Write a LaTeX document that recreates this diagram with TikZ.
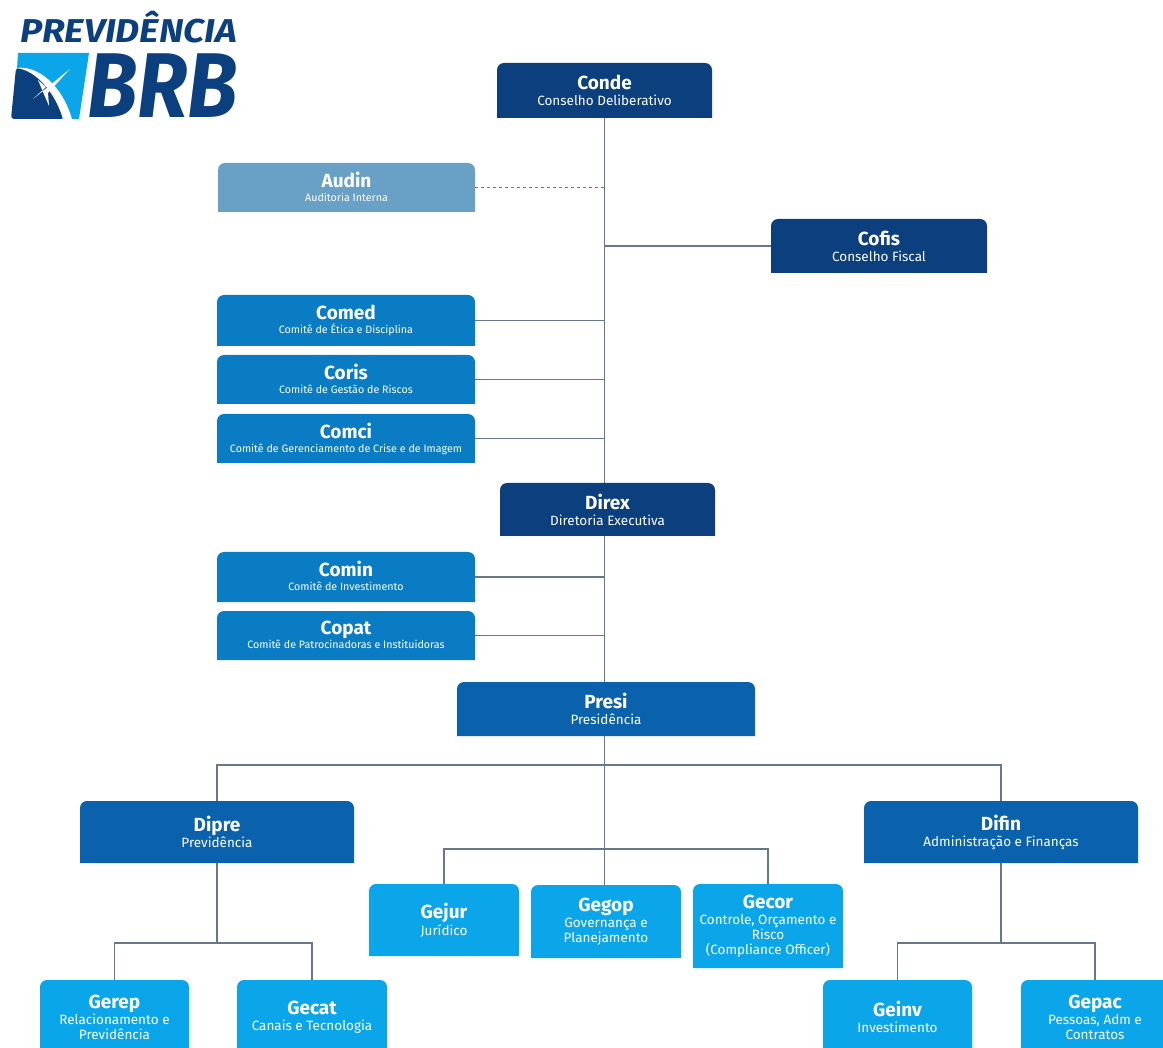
\documentclass[tikz,border=0pt]{standalone}
\usepackage{fontspec}
\setmainfont{Fira Sans}
\usepackage{xcolor}
\usetikzlibrary{arrows.meta,positioning}
\definecolor{navybox}{HTML}{0B3F7E}
\definecolor{presibox}{HTML}{0B62AC}
\definecolor{comitebox}{HTML}{0A7CC4}
\definecolor{audinbox}{HTML}{69A0C6}
\definecolor{gerenbox}{HTML}{0BA6E9}
\definecolor{linegray}{HTML}{66788A}
\newcommand{\smallsub}[1]{\raisebox{2pt}[0pt][0pt]{\fontsize{10.7}{11}\selectfont #1}}
% name, left, top, right, bottom, colour, title, subtitle
\newcommand{\orgbox}[8]{
    \fill[#6] (#2,#5) {[rounded corners=7pt] -- (#2,#3) -- (#4,#3)} -- (#4,#5) -- cycle;
    \node[orgtext, minimum width=#4pt-#2pt, minimum height=#5pt-#3pt] (#1) at ({(#2+#4)/2},{(#3+#5)/2})
        {{\fontsize{19}{22}\selectfont\bfseries #7}\\[1pt] #8};
}
\tikzset{
    orgtext/.style={inner sep=0pt, align=center, text=white, font=\fontsize{13.5}{15}\selectfont},
    orgline/.style={linegray, line width=1.2pt},
    logotext/.style={text=navybox, anchor=base west, inner sep=0pt}
}

\begin{document}
\begin{tikzpicture}[x=1pt,y=-1pt]
    \useasboundingbox (0,0) rectangle (1163,1048);

    % Logo
    \node[logotext, font=\fontsize{33}{33}\selectfont\bfseries\itshape] (logotop) at (20,43) {\scalebox{1.13}[1]{PREVIDÊNCIA}};
    \node[logotext, font=\fontsize{92}{92}\selectfont\bfseries\itshape] (logobrb) at (87,118) {\scalebox{0.9}[1]{BRB}};
    \fill[gerenbox] (18,53) -- (89,53) -- (79,119) -- (14,119) -- cycle;
    \fill[navybox, rounded corners=3pt] (16,68) .. controls (36,70) and (55,92) .. (63,119) -- (11,119) -- cycle;
    \fill[white] (16,68) .. controls (38,65) and (62,85) .. (72,119) -- (63,119) .. controls (55,92) and (36,70) .. (16,68) -- cycle;
    \fill[white] (33,99) -- (70,69) -- (48,93) -- (49,106) -- (43,92) -- (38,80) -- (46,87) -- cycle;

    % Boards
    \orgbox{conde}{497}{63}{712}{118}{navybox}{Conde}{Conselho Deliberativo}
    \orgbox{audin}{218}{163}{475}{212}{audinbox}{Audin}{\smallsub{Auditoria Interna}}
    \orgbox{cofis}{771}{219}{987}{273}{navybox}{Cofis}{Conselho Fiscal}

    % Committees
    \orgbox{comed}{217}{295}{475}{346}{comitebox}{Comed}{\smallsub{Comitê de Ética e Disciplina}}
    \orgbox{coris}{217}{355}{475}{404}{comitebox}{Coris}{\smallsub{Comitê de Gestão de Riscos}}
    \orgbox{comci}{217}{414}{475}{463}{comitebox}{Comci}{\smallsub{Comitê de Gerenciamento de Crise e de Imagem}}
    \orgbox{direx}{500}{483}{715}{536}{navybox}{Direx}{Diretoria Executiva}
    \orgbox{comin}{217}{552}{475}{602}{comitebox}{Comin}{\smallsub{Comitê de Investimento}}
    \orgbox{copat}{217}{611}{475}{660}{comitebox}{Copat}{\smallsub{Comitê de Patrocinadoras e Instituidoras}}

    % Presidency and directors
    \orgbox{presi}{457}{682}{755}{736}{presibox}{Presi}{Presidência}
    \orgbox{dipre}{80}{801}{354}{863}{presibox}{Dipre}{Previdência}
    \orgbox{difin}{864}{801}{1138}{863}{presibox}{Difin}{Administração e Finanças}

    % Managers
    \orgbox{gejur}{369}{884}{519}{956}{gerenbox}{Gejur}{Jurídico}
    \orgbox{gegop}{531}{885}{681}{958}{gerenbox}{Gegop}{Governança e\\Planejamento}
    \orgbox{gecor}{693}{884}{843}{968}{gerenbox}{Gecor}{Controle, Orçamento e\\Risco\\(Compliance Officer)}
    \orgbox{gerep}{40}{980}{189}{1054}{gerenbox}{Gerep}{Relacionamento e\\Previdência}
    \orgbox{gecat}{237}{980}{387}{1054}{gerenbox}{Gecat}{Canais e Tecnologia}
    \orgbox{geinv}{823}{980}{972}{1054}{gerenbox}{Geinv}{Investimento}
    \orgbox{gepac}{1021}{980}{1169}{1054}{gerenbox}{Gepac}{Pessoas, Adm e\\Contratos}

    % Bars
    \coordinate (barpresi) at (605,765);
    \coordinate (barstaff) at (605,849);
    \coordinate (bardipre) at (217,943);
    \coordinate (bardifin) at (1001,943);

    % Spine
    \draw[orgline] (conde.south) -- (conde.south |- direx.north);
    \draw[orgline] (conde.south |- direx.south) -- (conde.south |- presi.north);
    \draw[orgline] (conde.south |- presi.south) -- (conde.south |- gegop.north);

    % Side branches
    \draw[orgline, dashed, line width=0.8pt] (audin.east) -- (audin.east -| conde.south);
    \draw[orgline] (cofis.west) -- (cofis.west -| conde.south);
    \foreach \name in {comed,coris,comci,comin,copat}
        \draw[orgline] (\name.east) -- (\name.east -| conde.south);

    % Tree below Presi
    \draw[orgline] (dipre.north) -- (dipre.north |- barpresi) -- (difin.north |- barpresi) -- (difin.north);
    \draw[orgline] (gejur.north) -- (gejur.north |- barstaff) -- (gecor.north |- barstaff) -- (gecor.north);
    \draw[orgline] (dipre.south) -- (bardipre);
    \draw[orgline] (gerep.north) -- (gerep.north |- bardipre) -- (gecat.north |- bardipre) -- (gecat.north);
    \draw[orgline] (difin.south) -- (bardifin);
    \draw[orgline] (geinv.north) -- (geinv.north |- bardifin) -- (gepac.north |- bardifin) -- (gepac.north);
\end{tikzpicture}
\end{document}
